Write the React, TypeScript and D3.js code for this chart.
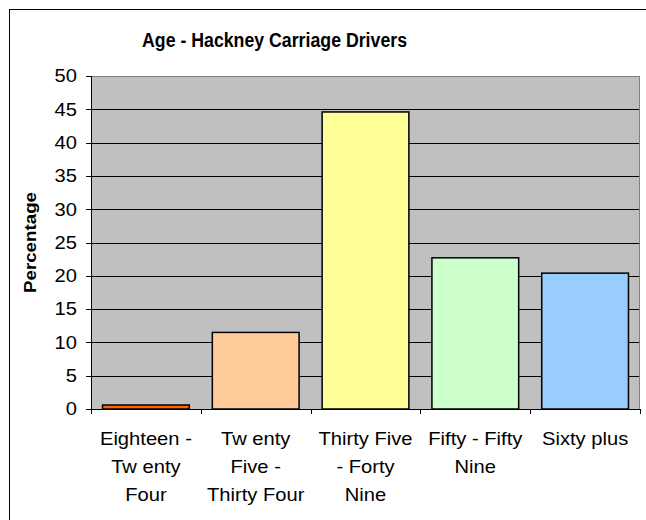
import React from "react";
import * as d3 from "d3";

const categories = [
  ["Eighteen -", "Tw enty", "Four"],
  ["Tw enty", "Five -", "Thirty Four"],
  ["Thirty Five", "- Forty", "Nine"],
  ["Fifty - Fifty", "Nine"],
  ["Sixty plus"],
];
const values = [0.6, 11.5, 44.6, 22.7, 20.4];
const colors = ["#FF6600", "#FFCC99", "#FFFF99", "#CCFFCC", "#99CCFF"];
const yTicks = [0, 5, 10, 15, 20, 25, 30, 35, 40, 45, 50];
const title = "Age - Hackney Carriage Drivers";
const yTitle = "Percentage";

export default function App() {
  const W = 646, H = 520;
  const left = 91, right = 640, top = 76, bottom = 409;
  const x = d3.scaleBand<number>().domain(d3.range(values.length)).range([left, right]).paddingInner(0.21).paddingOuter(0.105);
  const xb = d3.scaleBand<number>().domain(d3.range(values.length)).range([left, right]);
  const y = d3.scaleLinear().domain([0, 50]).range([bottom, top]);
  const font = "Liberation Sans, Arial, sans-serif";
  const sx = 1.12;
  return (
    <svg width={W} height={H} style={{ position: "absolute", left: 0, top: 0 }} fontFamily={font}>
      <rect x={0} y={0} width={W} height={H} fill="#fff" />
      <rect x={9.5} y={9.5} width={W} height={H} fill="none" stroke="#000" strokeWidth={1} />
      <text x={274.5} y={47} textAnchor="middle" fontSize={19.5} fontWeight="bold" textLength={265} lengthAdjust="spacingAndGlyphs">{title}</text>
      <rect x={left} y={top} width={right - left} height={bottom - top} fill="#C0C0C0" />
      {yTicks.slice(1, -1).map((t) => (
        <line key={t} x1={left} x2={right} y1={Math.round(y(t)) + 0.5} y2={Math.round(y(t)) + 0.5} stroke="#000" strokeWidth={1} />
      ))}
      <line x1={left} x2={right} y1={top + 0.5} y2={top + 0.5} stroke="#808080" />
      <line x1={right - 0.5} x2={right - 0.5} y1={top} y2={bottom} stroke="#808080" />
      {values.map((v, i) => (
        <rect key={i} x={x(i)!} y={y(v)} width={x.bandwidth()} height={bottom - y(v)} fill={colors[i]} stroke="#000" strokeWidth={1.5} />
      ))}
      <line x1={left + 0.5} x2={left + 0.5} y1={top} y2={bottom} stroke="#000" />
      <line x1={left - 5} x2={right} y1={bottom + 0.5} y2={bottom + 0.5} stroke="#000" />
      {yTicks.map((t) => (
        <g key={t}>
          <line x1={left - 5} x2={left} y1={Math.round(y(t)) + 0.5} y2={Math.round(y(t)) + 0.5} stroke="#000" />
          <text transform={`translate(77,${y(t)}) scale(1.15,1)`} dy="0.36em" textAnchor="end" fontSize={17.5}>{t}</text>
        </g>
      ))}
      {d3.range(values.length + 1).map((i) => {
        const xx = i < values.length ? xb(i)! : right;
        return <line key={i} x1={Math.round(xx) + 0.5} x2={Math.round(xx) + 0.5} y1={bottom} y2={bottom + 5} stroke="#000" />;
      })}
      {categories.map((lines, i) => (
        <text key={i} transform={`translate(${xb(i)! + xb.bandwidth() / 2},445) scale(${sx},1)`} textAnchor="middle" fontSize={18}>
          {lines.map((l, j) => (
            <tspan key={j} x={0} dy={j === 0 ? 0 : 28}>{l}</tspan>
          ))}
        </text>
      ))}
      <text transform={`translate(36,242.5) rotate(-90)`} textAnchor="middle" fontSize={17} fontWeight="bold" textLength={101} lengthAdjust="spacingAndGlyphs">{yTitle}</text>
    </svg>
  );
}
